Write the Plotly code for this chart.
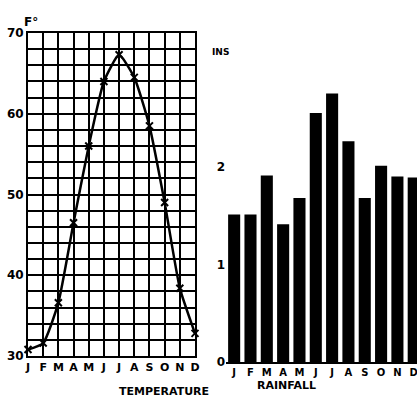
import plotly.graph_objects as go

months = ["J", "F", "M", "A", "M", "J", "J", "A", "S", "O", "N", "D"]
temperature_f = [30.8, 31.6, 36.6, 46.5, 56.0, 64.0, 67.3, 64.5, 58.5, 49.0, 38.4, 32.8]
rainfall_in = [1.51, 1.51, 1.91, 1.41, 1.68, 2.55, 2.75, 2.26, 1.68, 2.01, 1.90, 1.89]
temp_ticks = [30, 40, 50, 60, 70]
rain_ticks = [0, 1, 2]

W, H = 417, 409
def px(x):
    return x / W
def py(y):
    return 1 - y / H

FONT = dict(family="DejaVu Sans", size=12, color="black", weight="bold")
idx = list(range(len(months)))

fig = go.Figure()
fig.add_trace(go.Scatter(
    x=idx, y=temperature_f, mode="lines+markers",
    line=dict(color="black", width=2.5, shape="spline", smoothing=0.5),
    marker=dict(symbol="x-thin", size=7, line=dict(color="black", width=2)),
    xaxis="x", yaxis="y", showlegend=False, cliponaxis=False,
))
fig.add_trace(go.Bar(
    x=idx, y=rainfall_in, width=0.74,
    marker=dict(color="black", line=dict(width=0)),
    xaxis="x2", yaxis="y2", showlegend=False,
))

fig.update_layout(
    width=W, height=H, margin=dict(l=0, r=0, t=0, b=0, autoexpand=False),
    paper_bgcolor="white", plot_bgcolor="white", font=FONT,
    xaxis=dict(
        domain=[px(28), px(195)], range=[0, 11], anchor="y", automargin=False,
        tickvals=idx, ticktext=months, showgrid=True, gridcolor="black", gridwidth=2,
        showline=True, mirror=True, linecolor="black", linewidth=2,
        ticks="", zeroline=False, tickfont=dict(size=11),
    ),
    yaxis=dict(
        domain=[py(356), py(33)], range=[30, 70], anchor="x", automargin=False,
        tickvals=temp_ticks, showgrid=True, gridcolor="black", gridwidth=2,
        minor=dict(dtick=2, showgrid=True, gridcolor="black", gridwidth=2),
        showline=True, mirror=True, linecolor="black", linewidth=2,
        ticks="", zeroline=False, tickfont=dict(size=12),
    ),
    xaxis2=dict(
        domain=[px(226), 1], range=[-0.5, 11.2], anchor="y2", automargin=False,
        tickvals=idx, ticktext=months, showgrid=False,
        showline=True, linecolor="black", linewidth=2, ticklabeloverflow="allow",
        ticks="", zeroline=False, tickfont=dict(size=10),
    ),
    yaxis2=dict(
        domain=[py(362), py(33)], range=[0, 3.37], anchor="x2", automargin=False,
        tickvals=rain_ticks, showgrid=False, showline=False,
        ticks="", zeroline=False, tickfont=dict(size=12),
    ),
    annotations=[
        dict(text="F°", x=px(22), y=py(13), xref="paper", yref="paper",
             showarrow=False, font=dict(size=12)),
        dict(text="INS", x=px(220), y=py(45), xref="paper", yref="paper",
             showarrow=False, font=dict(size=9)),
        dict(text="TEMPERATURE", x=px(117), y=py(400), xref="paper", yref="paper",
             showarrow=False, font=dict(size=11)),
        dict(text="RAINFALL", x=px(318), y=py(394), xref="paper", yref="paper",
             showarrow=False, font=dict(size=11)),
    ],
)

fig.write_html(
    "out.html",
    config={"displayModeBar": False},
    post_script="document.body.style.margin='0';document.body.style.overflow='hidden';",
)
